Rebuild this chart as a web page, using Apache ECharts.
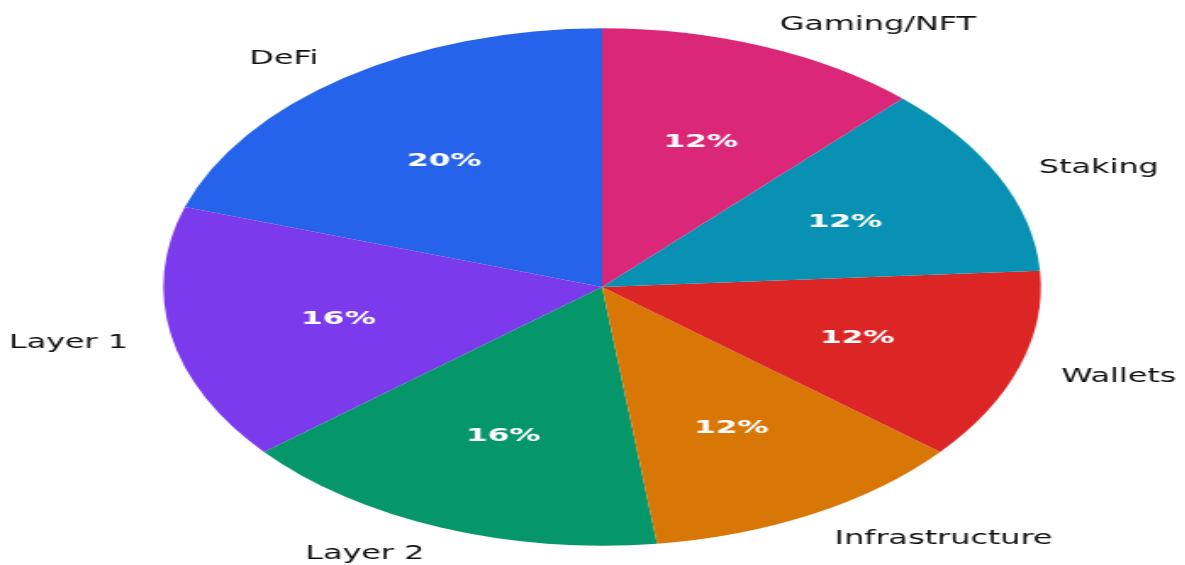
<!DOCTYPE html>
<html>
<head>
<meta charset="utf-8">
<script src="https://cdn.jsdelivr.net/npm/echarts@6/dist/echarts.min.js"></script>
<style>
html,body{margin:0;padding:0;background:#fff;overflow:hidden;width:1185px;height:565px;}
#wrap{position:absolute;left:0;top:0;width:699px;height:565px;transform:scaleX(1.696);transform-origin:0 0;}
#chart{width:699px;height:565px;}
</style>
</head>
<body>
<div id="wrap"><div id="chart"></div></div>
<script>
const categories = ['DeFi', 'Layer 1', 'Layer 2', 'Infrastructure', 'Wallets', 'Staking', 'Gaming/NFT'];
const values = [20, 16, 16, 12, 12, 12, 12];
const colors = ['#2563eb', '#7c3aed', '#059669', '#d97706', '#dc2626', '#0891b2', '#db2777'];

const R = 258.7;
const CX = 355, CY = 287;
const LBL_DY = 2.5;
const data = categories.map((c, i) => ({ name: c, value: values[i] }));

const chart = echarts.init(document.getElementById('chart'), null, { renderer: 'canvas' });
chart.setOption({
  animation: false,
  backgroundColor: '#ffffff',
  color: colors,
  series: [
    {
      type: 'pie',
      center: [CX, CY],
      radius: [0, R],
      startAngle: 90,
      clockwise: false,
      silent: true,
      data: data,
      itemStyle: { borderWidth: 0 },
      label: { show: false },
      labelLine: { show: false },
      emphasis: { disabled: true }
    },
    {
      type: 'pie',
      center: [CX, CY + LBL_DY],
      radius: [0, R],
      startAngle: 90,
      clockwise: false,
      avoidLabelOverlap: false,
      silent: true,
      z: 4,
      data: data,
      itemStyle: { color: 'rgba(0,0,0,0)', borderWidth: 0 },
      label: {
        show: true,
        position: 'outside',
        formatter: '{b}',
        color: '#111111',
        fontFamily: 'DejaVu Sans',
        fontSize: 18.8,
        distanceToLabelLine: 0
      },
      labelLine: { show: false, length: 0.1 * R, length2: 0 },
      emphasis: { disabled: true }
    },
    {
      type: 'pie',
      center: [CX, CY + LBL_DY],
      radius: [0, 1.2 * R],
      startAngle: 90,
      clockwise: false,
      avoidLabelOverlap: false,
      silent: true,
      z: 5,
      data: data,
      itemStyle: { color: 'rgba(0,0,0,0)', borderWidth: 0 },
      label: {
        show: true,
        position: 'inside',
        formatter: p => Math.round(p.percent) + '%',
        color: '#ffffff',
        fontFamily: 'DejaVu Sans',
        fontWeight: 'bold',
        fontSize: 18.4
      },
      labelLine: { show: false },
      emphasis: { disabled: true }
    }
  ]
});
</script>
</body>
</html>
